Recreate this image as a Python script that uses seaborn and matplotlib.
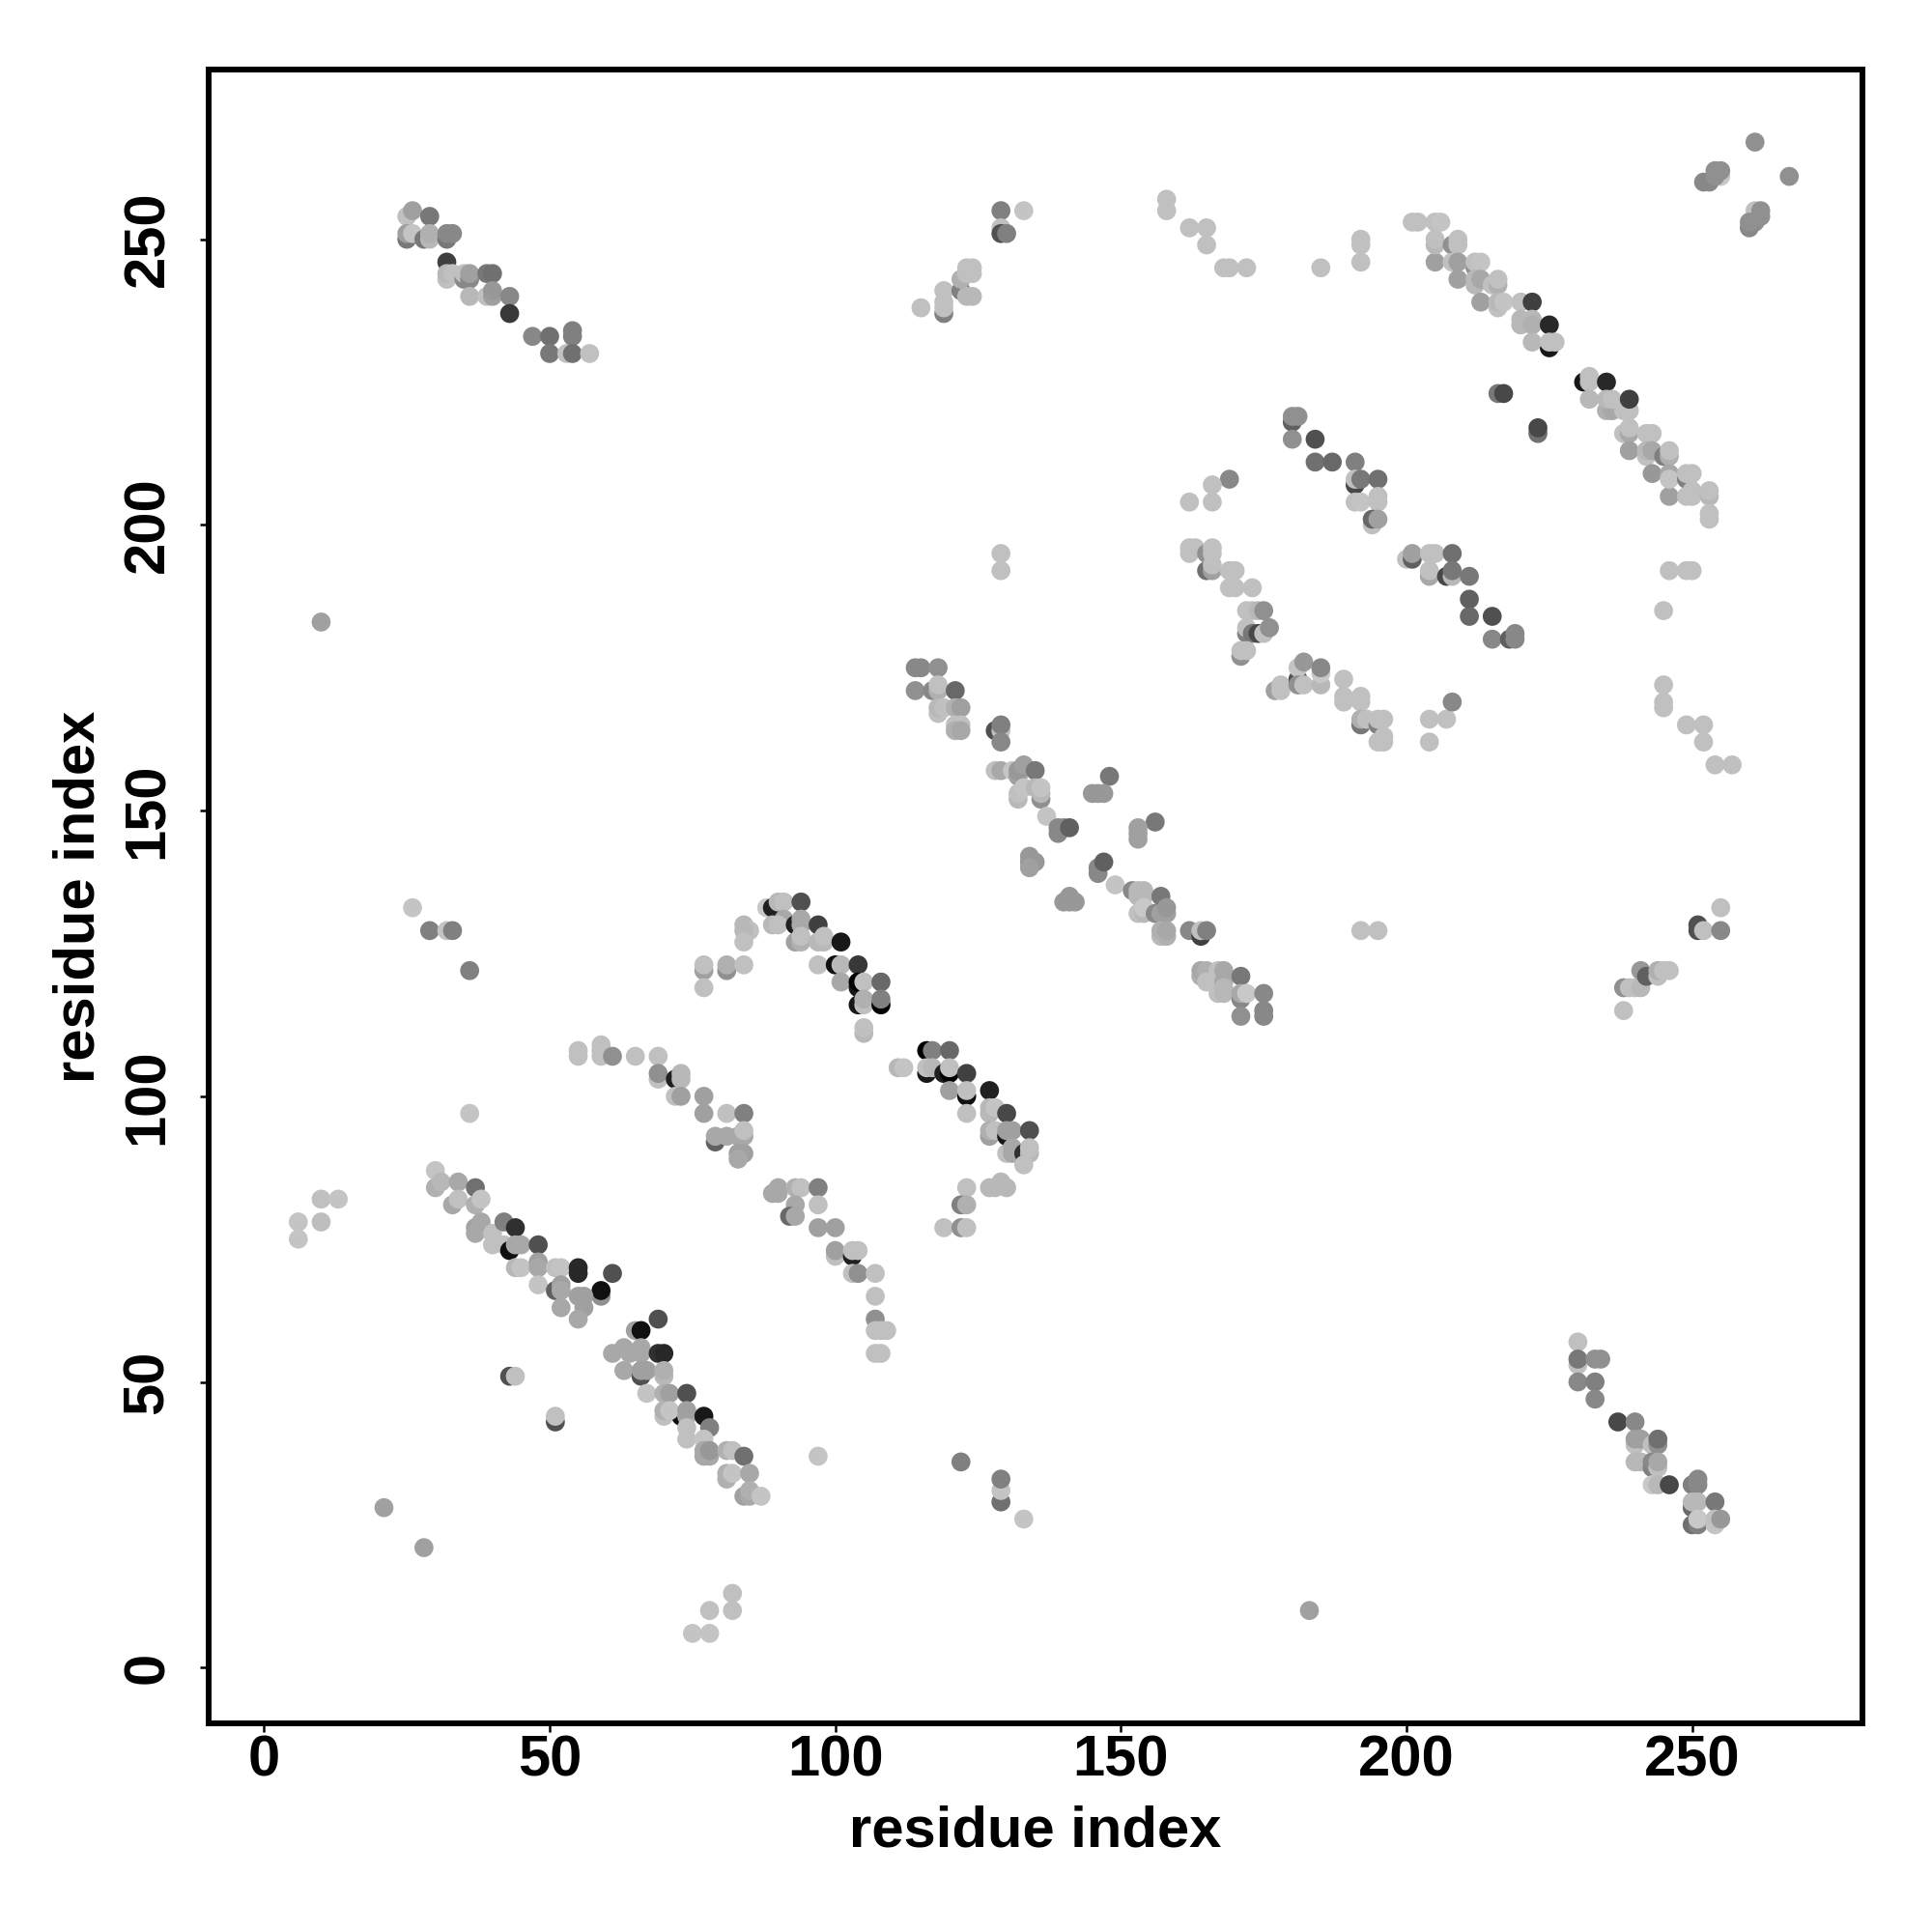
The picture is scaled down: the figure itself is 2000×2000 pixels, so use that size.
import matplotlib
matplotlib.use("Agg")
import matplotlib.pyplot as plt
import pandas as pd
import seaborn as sns

# (residue i, residue j, gray level 0-255), in drawing order
diag_lower = [
 (6,75,196),(6,78,196),(10,78,190),(10,82,192),(13,82,196),
 (30,87,196),(30,84,176),(31,85,184),(34,85,168),(33,81,168),(34,82,192),(37,84,112),
 (37,81,176),(38,82,196),(37,77,160),(38,78,168),(37,76,168),(40,76,192),(42,78,128),(44,77,48),
 (40,74,192),(42,74,192),(43,73,16),(44,74,168),(45,74,168),(48,74,80),
 (44,70,184),(45,70,196),(48,71,160),(48,70,168),(48,67,196),(51,70,192),(52,70,196),
 (55,69,40),(55,70,40),(61,69,80),(59,65,144),(59,66,16),(51,66,96),(52,67,160),(52,66,168),
 (52,63,168),(55,65,160),(56,65,160),(56,63,160),(55,61,168),(69,61,80),(65,59,160),(66,59,16),
 (61,55,168),(63,56,168),(64,55,168),(66,56,168),(66,55,168),(69,55,48),(70,55,40),
 (63,52,168),(66,51,80),(66,52,160),(67,52,160),(70,51,184),(70,52,176),
 (43,51,80),(44,51,192),(51,43,80),(51,44,192),
 (67,48,196),(70,48,176),(71,48,160),(74,48,80),(73,44,16),(70,44,192),(70,45,176),(71,45,196),
 (74,44,168),(74,45,160),(77,44,24),(74,42,192),(78,42,128),(74,40,192),(77,40,196),
 (77,37,168),(78,37,168),(77,38,168),(78,38,152),(81,38,176),(82,38,192),(84,37,112),
 (81,33,176),(81,34,176),(82,34,196),(85,34,168),(84,30,160),(85,30,168),(85,31,176),(87,30,196),
]
far_lower = [
 (82,13,192),(82,10,192),(78,10,192),(75,6,196),(78,6,196),(97,37,196),(122,36,128),
 (129,29,112),(129,31,196),(129,33,128),(133,26,196),(183,10,160),(10,183,160),(21,28,160),(28,21,160),
 (36,122,128),(36,97,196),(26,133,196),(29,129,128),(32,129,196),(33,129,128),
]
hairpin_upper = [
 (88,133,200),(89,133,32),(90,134,184),(91,134,192),(94,134,80),
 (84,130,184),(85,129,192),(84,129,184),(84,127,192),(89,130,184),(91,131,168),(90,130,192),
 (93,130,32),(94,131,168),(94,130,168),(97,130,64),(93,127,160),(94,127,176),(94,128,192),
 (97,127,184),(98,127,184),(98,128,192),(101,127,24),
 (77,122,160),(77,123,192),(81,122,144),(81,123,176),(84,123,192),(77,119,192),
 (97,123,192),(100,123,16),(101,123,184),(104,123,56),(101,120,168),(104,119,24),(104,120,0),
 (105,120,192),(108,120,104),(104,116,24),(105,116,192),(105,117,176),(108,116,0),(108,117,128),
 (105,111,184),(105,112,192),
 (116,108,0),(117,108,128),(120,108,104),(111,105,184),(112,105,196),(116,104,24),(116,105,192),
 (117,105,184),(119,104,32),(120,104,0),(120,105,192),(123,104,64),(120,101,160),(123,100,16),
 (123,101,192),(127,101,32),(123,97,192),(127,98,184),(127,97,184),(128,98,196),(130,97,72),
 (127,93,160),(127,94,176),(128,94,192),(130,93,24),(130,94,160),(131,94,160),(134,94,80),
 (130,90,192),(131,90,168),(131,91,168),(133,90,48),(134,90,184),(134,91,192),(133,88,192),
 (123,84,192),(127,84,184),(129,85,184),(128,84,184),(130,84,184),(122,81,128),(123,81,176),
 (119,77,192),(122,77,144),(123,77,192),
]
chain_mid = [
 (55,107,192),(55,108,192),(59,107,192),(59,108,192),(59,109,192),(61,107,144),(65,107,192),(69,107,192),
 (69,103,192),(69,104,144),(72,103,32),(73,104,184),(73,103,184),(72,100,192),(73,100,160),
 (77,100,160),(77,97,160),(81,97,192),(84,97,128),(79,92,96),(79,93,168),(81,93,168),(83,93,168),
 (84,93,168),(84,94,192),(83,90,160),(84,90,160),(83,89,168),
 (89,83,168),(90,84,168),(90,83,168),(93,84,176),(94,84,192),(97,84,128),(93,81,168),(97,81,192),
 (92,79,104),(93,79,168),(97,77,160),(100,77,160),(100,72,192),(100,73,160),(103,72,32),
 (103,73,192),(104,73,192),(103,69,192),(104,69,144),(107,69,192),(107,65,192),(107,61,144),
 (107,59,192),(108,59,192),(109,59,192),(107,55,192),(108,55,192),
]
diag_center = [
 (114,175,136),(115,175,136),(118,175,144),(114,171,144),(117,171,136),(118,171,176),(118,172,192),(121,171,104),
 (118,167,192),(118,168,184),(119,168,192),(121,168,176),(122,168,160),(121,165,192),(122,165,192),
 (121,164,176),(122,164,168),(128,164,80),(129,164,192),(129,165,128),(129,162,136),
 (128,157,192),(129,157,168),(131,157,196),(132,156,160),(132,157,152),(133,158,160),(135,157,120),
 (132,152,184),(132,153,192),(133,154,196),(136,152,144),(135,154,184),(136,153,184),(136,154,196),
 (137,149,196),(139,146,136),(139,147,136),(140,147,136),(141,147,96),
 (134,142,152),(134,141,152),(135,141,152),(134,140,160),
 (148,156,120),(145,153,152),(146,153,152),(147,153,152),(156,148,120),(153,145,160),(153,146,160),(153,147,160),
 (146,139,136),(146,140,136),(147,141,96),(140,134,152),(141,134,152),(142,134,152),(141,135,152),
 (149,137,196),(152,136,136),(153,136,184),(154,136,184),(153,135,184),(154,135,184),(153,132,192),
 (154,132,184),(154,133,200),(157,135,120),(156,132,136),(157,132,160),(158,132,160),(158,133,152),
 (157,128,184),(158,128,176),(157,129,176),(158,129,168),(162,129,136),(164,128,64),(164,129,192),(165,129,128),
 (164,121,176),(164,122,168),(165,122,176),(165,120,192),(167,122,192),(168,120,168),(168,122,168),(171,121,120),
 (167,118,192),(168,118,184),(168,119,184),(171,117,136),(171,118,168),(172,118,200),(175,118,136),
 (171,114,144),(175,114,136),(175,115,136),
]
block_upper_mid = [
 (180,218,96),(180,219,144),(181,219,144),(180,215,144),(184,215,80),(184,211,112),(187,211,104),(191,211,128),
 (191,207,72),(191,208,192),(192,208,120),(195,208,112),(191,204,192),(192,204,196),(195,204,192),(195,205,192),
 (194,200,192),(194,201,104),(195,201,160),(169,208,136),(166,207,192),(166,204,192),(162,204,192),
 (162,195,192),(162,196,192),(163,196,192),(165,195,144),(166,195,192),(166,196,192),(165,192,112),(166,192,160),(166,193,192),
 (169,192,192),(170,192,192),(169,189,192),(170,189,192),(173,189,192),
 (172,185,192),(173,185,192),(174,185,184),(175,185,144),(172,181,128),(172,182,192),(173,181,120),(174,181,72),(175,181,192),(176,182,144),
 (171,177,144),(171,178,192),(172,178,192),(177,171,160),(178,171,192),(178,172,192),
 (181,173,80),(181,175,196),(181,172,144),(182,176,152),(182,172,192),(185,172,184),(185,174,200),(185,175,136),
 (189,173,192),(189,169,192),(189,170,192),(192,169,192),(192,170,192),(192,165,120),(192,166,176),(193,166,192),
 (195,165,128),(195,166,192),(196,166,192),(195,162,192),(196,162,192),(196,163,192),
 (204,166,192),(207,166,192),(208,169,136),(204,162,192),
 (200,194,192),(201,194,96),(201,195,160),(204,195,192),(205,195,192),(204,191,168),(204,192,192),
 (208,195,112),(207,191,72),(208,191,184),(208,192,120),(211,191,120),(211,187,96),(211,184,104),(215,184,80),
 (215,180,136),(218,180,96),(219,180,136),(219,181,136),
]
diag_upper = [
 (201,253,192),(202,253,192),(205,253,192),(206,253,196),(205,246,160),(205,249,184),(205,250,192),
 (208,249,144),(209,249,192),(209,250,192),(212,245,144),(208,246,192),(209,246,160),(209,243,160),
 (212,246,192),(213,246,196),(212,242,184),(212,243,184),(213,243,168),
 (215,242,192),(216,242,176),(216,243,192),(213,239,160),(216,238,192),(216,239,184),(217,239,196),
 (220,239,192),(222,239,64),(220,235,184),(220,236,184),(222,236,184),(222,235,176),(225,235,40),
 (225,231,24),(222,232,184),(225,232,192),(226,232,192),
 (216,223,120),(217,223,72),(223,216,112),(223,217,72),
 (231,225,24),(232,225,192),(232,226,192),(235,225,40),(232,222,184),(235,220,176),(236,220,168),
 (235,222,184),(236,222,192),(238,220,192),(239,220,192),(239,222,64),
 (238,216,192),(239,216,168),(239,217,192),(239,213,160),(242,216,192),(243,216,192),
 (242,212,192),(242,213,184),(243,213,168),(245,212,128),(246,212,176),(246,213,192),
 (243,209,152),(246,205,160),(246,209,168),(246,208,196),(249,208,128),(249,209,192),(250,209,192),
 (249,205,192),(250,205,192),(250,206,192),(253,205,184),(253,206,192),(253,201,192),(253,202,192),
]
corner_top = [
 (261,267,144),(267,261,144),(252,260,136),(253,260,136),(255,261,200),(254,261,144),(254,262,144),(255,262,144),
 (261,255,192),(261,253,144),(260,252,136),(260,253,144),(262,254,144),(262,255,144),
]
block_top_left = [
 (25,254,192),(26,255,160),(29,254,120),(25,250,120),(25,251,160),(26,251,196),(28,250,120),(29,250,184),(29,251,176),
 (32,250,120),(32,251,136),(33,251,136),(32,246,64),(32,243,192),(32,244,184),(33,244,192),
 (35,243,136),(35,244,192),(36,243,136),(36,244,160),(39,244,120),(40,244,112),
 (36,240,184),(39,240,192),(40,240,160),(40,241,152),(43,240,136),(43,237,56),
 (47,233,136),(50,233,112),(50,230,120),(53,230,192),(54,234,128),(54,233,128),(54,230,112),(57,230,192),
]
block_bottom_right = [
 (230,57,192),(230,53,192),(230,54,120),(233,54,144),(234,54,144),(230,50,136),(233,50,128),(233,47,136),
 (237,43,72),(240,43,136),(240,39,192),(240,40,160),(241,40,160),(243,39,192),(244,39,144),(244,40,112),
 (240,36,184),(241,36,184),(243,35,128),(243,36,136),(244,35,192),(244,36,168),
 (243,32,200),(244,32,184),(246,32,72),(250,32,128),(251,32,136),(251,33,136),
 (250,28,104),(250,29,184),(251,29,184),(254,29,120),
 (250,25,112),(251,25,128),(251,26,200),(254,25,196),(254,26,192),(255,26,152),
]
scattered = [
 (133,255,196),(129,255,128),(129,252,192),(129,251,80),(130,251,128),
 (115,238,192),(119,237,128),(119,238,192),(119,239,192),(119,241,192),(122,241,128),(123,240,184),(124,240,184),
 (122,243,176),(123,244,192),(124,244,192),(123,245,192),(124,245,192),
 (158,257,192),(158,255,192),(162,252,192),(165,252,192),(165,249,192),(168,245,192),(169,245,192),(172,245,192),(185,245,192),
 (192,250,192),(192,249,192),(192,246,192),(129,195,192),(129,192,192),
 (245,185,192),(246,192,192),(249,192,192),(250,192,192),(245,172,192),(245,169,192),(245,168,192),
 (249,165,192),(252,165,192),(252,162,192),(254,158,192),(257,158,192),
 (192,129,192),(195,129,192),(251,129,80),(251,130,80),(252,129,192),(255,129,136),(255,133,192),
 (238,119,144),(238,115,192),(239,119,192),(240,119,192),(241,119,184),(241,122,152),(242,121,96),
 (244,121,192),(244,122,176),(245,122,192),(246,122,192),
]

tick_values = [0, 50, 100, 150, 200, 250]
axis_label = "residue index"

groups = [diag_lower, far_lower, hairpin_upper, chain_mid, diag_center, block_upper_mid,
          diag_upper, corner_top, block_top_left, block_bottom_right, scattered]
df = pd.DataFrame([p for g in groups for p in g], columns=["i", "j", "shade"])
palette = {v: tuple([v / 255] * 3) for v in df["shade"].unique()}

sns.set_theme(style="white")
plt.rcParams["font.family"] = ["Liberation Sans", "DejaVu Sans"]
plt.rcParams["font.weight"] = "bold"

fig = plt.figure(figsize=(10, 10), dpi=200)
ax = fig.add_axes([216 / 2000, 1 - 1783.7 / 2000, (1928 - 216) / 2000, (1783.7 - 72) / 2000])
sns.scatterplot(data=df, x="i", y="j", hue="shade", palette=palette, legend=False,
                s=50, linewidth=0, ax=ax)
ax.set_xlim(-9.69, 279.81)
ax.set_ylim(-9.7, 279.7)
ax.set_xticks(tick_values)
ax.set_yticks(tick_values)
ax.set_xlabel(axis_label, fontsize=21.5, fontweight="bold", color="black")
ax.set_ylabel(axis_label, fontsize=21.5, fontweight="bold", color="black")
ax.xaxis.set_label_coords(0.5, -0.0498)
ax.yaxis.set_label_coords(-0.062, 0.5)
ax.tick_params(axis="both", direction="out", length=3.1, width=0.9, color="black", labelcolor="black",
               labelsize=21.5, bottom=True, left=True)
ax.tick_params(axis="x", pad=1)
ax.tick_params(axis="y", pad=9.5)
for t in ax.get_yticklabels():
    t.set_rotation(90)
    t.set_va("center")
for s in ax.spines.values():
    s.set_visible(True)
    s.set_linewidth(2.15)
    s.set_color("black")
fig.savefig("out.png", dpi=200, facecolor="white")
